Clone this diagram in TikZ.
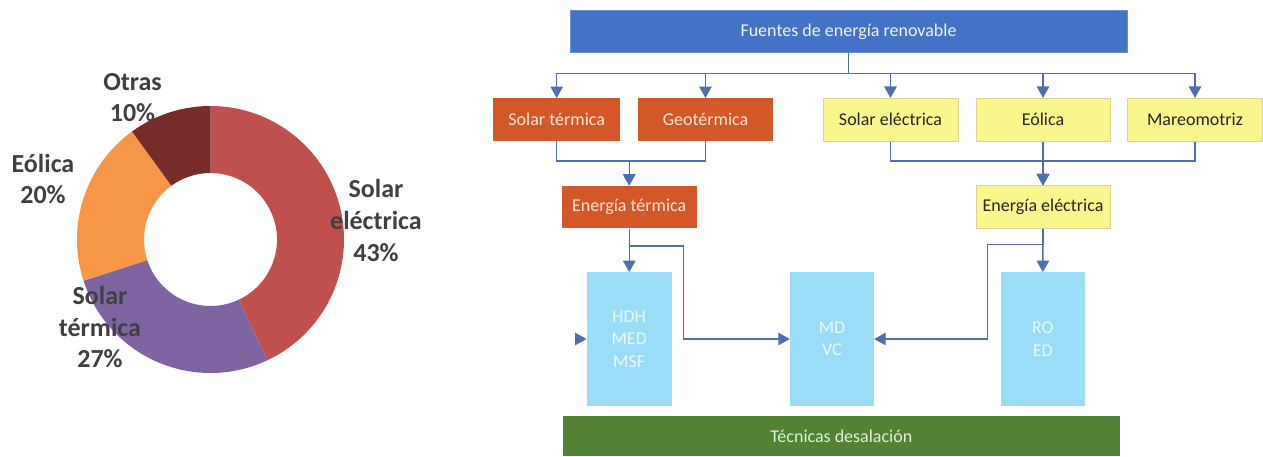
\documentclass[tikz,border=0pt]{standalone}
\usepackage{fontspec}
\setmainfont{Carlito}
\usetikzlibrary{arrows.meta}
\definecolor{cSE}{HTML}{C0504D}
\definecolor{cST}{HTML}{8064A2}
\definecolor{cEO}{HTML}{F79646}
\definecolor{cOT}{HTML}{772C2A}
\definecolor{lblgray}{HTML}{404040}
\definecolor{topblue}{HTML}{4472C4}
\definecolor{topedge}{HTML}{6A8FD0}
\definecolor{orfill}{HTML}{D4572A}
\definecolor{ortext}{HTML}{FBE5D6}
\definecolor{yefill}{HTML}{FAF68E}
\definecolor{yeedge}{HTML}{D8D490}
\definecolor{bufill}{HTML}{9BDCF6}
\definecolor{butext}{HTML}{EAF8FE}
\definecolor{grfill}{HTML}{538135}
\definecolor{grtext}{HTML}{E2EFDA}
\definecolor{conncol}{HTML}{4F6FB0}
\begin{document}
\begin{tikzpicture}[x=1pt,y=-1pt,
  lbl/.style={font=\bfseries\fontsize{26}{31.7}\selectfont, text=lblgray, align=center, inner sep=0pt},
  ebox/.style={inner sep=0pt, font=\fontsize{18}{22.4}\selectfont, align=center},
  orbox/.style={ebox, fill=orfill, text=ortext, minimum height=43pt},
  yebox/.style={ebox, fill=yefill, draw=yeedge, line width=0.6pt, text=black!85, minimum height=43pt},
  bubox/.style={ebox, fill=bufill, text=butext, minimum width=85pt, minimum height=133.4pt},
  conn/.style={draw=conncol, line width=1.4pt},
  arr/.style={conn, -{Triangle[length=11.5pt, width=12.5pt]}, color=conncol}
]
\useasboundingbox (0,0) rectangle (1263,456);

% ---------- donut chart ----------
\begin{scope}[shift={(210.5,239.5)}]
  \fill[cSE] (-90:133.5) arc[start angle=-90, end angle=64.8, radius=133.5]
    -- (64.8:66.5) arc[start angle=64.8, end angle=-90, radius=66.5] -- cycle;
  \fill[cST] (64.8:133.5) arc[start angle=64.8, end angle=162, radius=133.5]
    -- (162:66.5) arc[start angle=162, end angle=64.8, radius=66.5] -- cycle;
  \fill[cEO] (162:133.5) arc[start angle=162, end angle=234, radius=133.5]
    -- (234:66.5) arc[start angle=234, end angle=162, radius=66.5] -- cycle;
  \fill[cOT] (234:133.5) arc[start angle=234, end angle=270, radius=133.5]
    -- (270:66.5) arc[start angle=270, end angle=234, radius=66.5] -- cycle;
\end{scope}
\node[lbl] (lOT) at (132.5,97.5) {Otras\\10\%};
\node[lbl] (lEO) at (43,179) {Eólica\\20\%};
\node[lbl] (lSE) at (376,220.5) {Solar\\eléctrica\\43\%};
\node[lbl] (lST) at (100,327) {Solar\\térmica\\27\%};

% ---------- flow diagram ----------
\node[ebox, fill=topblue, draw=topedge, line width=0.6pt, text=white!95!black,
      minimum width=557pt, minimum height=42pt] (top) at (848.5,31.5) {Fuentes de energía renovable};

\node[orbox, minimum width=126.7pt] (st) at (556.7,119.7) {Solar térmica};
\node[orbox, minimum width=135pt] (geo) at (705.5,119.7) {Geotérmica};
\node[yebox, minimum width=135pt] (se) at (890.5,119.7) {Solar eléctrica};
\node[yebox, minimum width=134pt] (eo) at (1043,119.7) {Eólica};
\node[yebox, minimum width=135pt] (ma) at (1195,119.7) {Mareomotriz};

\node[orbox, minimum width=135pt, minimum height=42.6pt] (et) at (629.2,207) {Energía térmica};
\node[yebox, minimum width=134pt, minimum height=42.6pt] (ee) at (1043,207) {Energía eléctrica};

\node[bubox] (hdh) at (629.2,339) {HDH\\MED\\MSF};
\node[bubox, minimum width=84pt] (md) at (832,339) {MD\\VC};
\node[bubox, minimum width=84.3pt] (ro) at (1042.8,339) {RO\\ED};

\node[ebox, fill=grfill, text=grtext, minimum width=557.3pt, minimum height=40.3pt] (bar) at (841.3,435.9) {Técnicas desalación};

% connectors
\coordinate (bus) at (849,73.5);
\foreach \n in {st,geo,se,eo,ma}
  \draw[arr] (top.south) -- (top.south |- bus) -| (\n.north);

\coordinate (jt) at (629.2,161);
\draw[arr] (st.south) |- (et.north |- jt) -- (et.north);
\draw[arr] (geo.south) |- (et.north |- jt) -- (et.north);

\coordinate (je) at (1043,161);
\draw[arr] (se.south) |- (ee.north |- je) -- (ee.north);
\draw[arr] (eo.south) -- (ee.north);
\draw[arr] (ma.south) |- (ee.north |- je) -- (ee.north);

\draw[arr] (et.south) -- (hdh.north);
\coordinate (tk) at (683.3,246);
\draw[arr] (et.south) |- (tk) |- (md.west);

\draw[arr] (ee.south) -- (ro.north);
\coordinate (ek) at (987.3,244.3);
\draw[arr] (ee.south) |- (ek) |- (md.east);

\coordinate (lin) at (575,339);
\draw[arr] (lin) -- (hdh.west);
\end{tikzpicture}
\end{document}
